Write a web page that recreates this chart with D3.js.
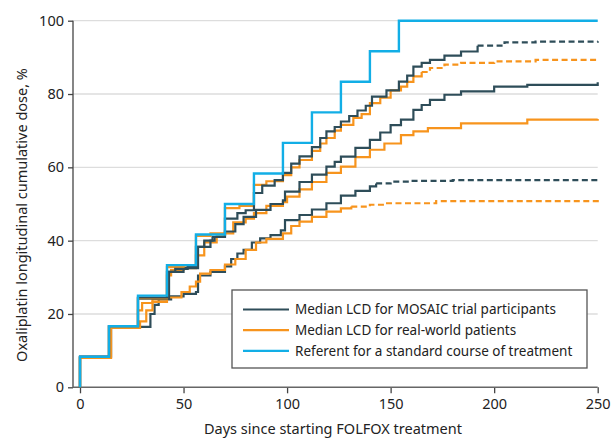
<!DOCTYPE html>
<html>
<head>
<meta charset="utf-8">
<script src="https://cdn.jsdelivr.net/npm/d3@7"></script>
<style>
  body { margin: 0; background: #fff; }
  text { font-family: "Noto Sans", sans-serif; fill: #222; }
</style>
</head>
<body>
<svg id="chart" width="611" height="438"></svg>
<script>
// [day, cumulative dose %]
var referent = d3.range(0, 12).map(function(k) { return [k * 14, (k + 1) * 100 / 12]; });
referent.push([250, 100]);

var mosaicUpper = [[0,8.33],[14,16.67],[28,24.5],[42,31.5],[46,32.3],[52,32.8],[56,38.3],[60,40],[65,41],[70,46],[76,47.5],[80,48.3],[84,53],[88,55],[94,56.5],[98,58.5],[102,61],[106,63],[112,65.5],[116,68],[119,69.8],[123,71],[126,72.5],[130,74],[134,75.5],[138,76.8],[141,79.3],[148,81],[154,83.4],[158,85],[161,87.5],[165,88.5],[169,89.3],[176,90.5],[184,91.6],[192,93.2],[205,94.1],[220,94.3],[250,94.4]];
var mosaicMedian = [[0,8.33],[14,16.67],[28,24.2],[43,31.5],[50,32.5],[57,38.3],[63,40],[64,41],[70,42.5],[75,44.5],[79,46.5],[85,48.4],[92,50],[98,51],[99,53.4],[106,56],[112,58],[119,60.2],[123,61.5],[126,62.9],[133,65.3],[140,67.5],[145,69.5],[150,71.5],[155,73],[161,75.7],[165,77],[169,78.4],[176,79.8],[184,80.7],[200,82],[216,82.5],[250,83.2]];
var mosaicLower = [[0,8.33],[15,16.5],[34,20],[36,22.5],[38,24],[44,24.8],[50,25.5],[56,26],[57,30.5],[63,31.5],[70,33],[73,35],[76,36.5],[79,37.5],[83,39.5],[87,40.6],[92,41.5],[97,42.8],[99,45.6],[106,47],[112,48.5],[119,50.2],[126,52.3],[133,53.6],[140,54.8],[143,55.6],[150,56.1],[160,56.3],[180,56.5],[250,56.7]];

var realUpper = [[0,8.0],[14,16.4],[28,24.3],[42,32.8],[50,33.2],[56,41.3],[63,42],[70,48.9],[77,49.5],[84,55.2],[90,56.2],[98,57.9],[102,60],[106,62],[112,64.5],[116,66.5],[119,68],[123,70],[126,71.6],[132,73.5],[136,74.5],[140,77.5],[145,79],[150,81],[155,82],[158,83.3],[161,84.8],[165,86],[169,87.1],[176,88],[184,88.5],[200,88.9],[220,89.3],[250,89.5]];
var realMedian = [[0,8.0],[14,16.4],[28,21],[30,23],[35,24],[42,30.5],[44,32],[50,32.5],[56,36],[60,39.5],[66,41.5],[70,42],[74,45],[80,46],[84,47.5],[90,49.5],[98,50.5],[100,52],[106,54],[112,56],[119,58.5],[126,60.2],[133,62.8],[140,64.8],[147,66.5],[155,68.8],[161,69.8],[168,70.7],[184,72],[216,73],[250,73.2]];
var realLower = [[0,8.0],[15,16.2],[29,18],[32,21],[35,23.3],[42,24.5],[49,26],[53,27.5],[56,28.8],[58,31],[63,32],[70,33.5],[75,35],[80,37.5],[85,39.5],[90,40.5],[98,42],[102,44],[106,45.2],[112,46.5],[119,47.9],[126,48.8],[131,49.3],[140,49.8],[147,50.2],[172,50.8],[250,51.1]];

// which day each bound curve turns dashed
var series = [
  { data: mosaicLower, color: "#2e4d59", dashFrom: 145 },
  { data: realLower, color: "#f7941d", dashFrom: 138 },
  { data: realMedian, color: "#f7941d", dashFrom: null },
  { data: mosaicMedian, color: "#2e4d59", dashFrom: null },
  { data: realUpper, color: "#f7941d", dashFrom: 168 },
  { data: mosaicUpper, color: "#2e4d59", dashFrom: 192 }
];

var legendItems = [
  { label: "Median LCD for MOSAIC trial participants", color: "#2e4d59" },
  { label: "Median LCD for real-world patients", color: "#f7941d" },
  { label: "Referent for a standard course of treatment", color: "#12aee6" }
];

var xTicks = [0, 50, 100, 150, 200, 250];
var yTicks = [0, 20, 40, 60, 80, 100];

var svg = d3.select("#chart");
var x = d3.scaleLinear().domain([0, 250]).range([80, 597.7]);
var y = d3.scaleLinear().domain([0, 100]).range([387.3, 20.7]);
var axisLeft = 73;

// gridlines
svg.append("g").selectAll("line")
  .data(yTicks.filter(function(d) { return d > 0; }))
  .enter().append("line")
  .attr("x1", axisLeft).attr("x2", 597.7)
  .attr("y1", function(d) { return y(d); })
  .attr("y2", function(d) { return y(d); })
  .attr("stroke", "#dddddd").attr("stroke-width", 1.3);

// axes
var yAxis = svg.append("g").attr("transform", "translate(" + axisLeft + ",0)")
  .call(d3.axisLeft(y).tickValues(yTicks).tickSize(5).tickPadding(4));
var xAxis = svg.append("g").attr("transform", "translate(0," + y(0) + ")")
  .call(d3.axisBottom(x).tickValues(xTicks).tickSize(6).tickPadding(5));
[yAxis, xAxis].forEach(function(a) {
  a.select(".domain").remove();
  a.selectAll(".tick line").attr("stroke", "#444").attr("stroke-width", 1.3);
  a.selectAll(".tick text").style("font-size", "14.5px").style("font-family", "Noto Sans").attr("fill", "#222");
});
svg.append("line").attr("x1", axisLeft).attr("x2", axisLeft)
  .attr("y1", y(100)).attr("y2", y(0)).attr("stroke", "#444").attr("stroke-width", 1.3);
svg.append("line").attr("x1", axisLeft).attr("x2", 597.7)
  .attr("y1", y(0)).attr("y2", y(0)).attr("stroke", "#666").attr("stroke-width", 1.6);

var line = d3.line()
  .x(function(d) { return x(d[0]); })
  .y(function(d) { return y(d[1]); })
  .curve(d3.curveStepAfter);

var curves = svg.append("g").attr("fill", "none");

function startAtZero(data) { return [[0, 0]].concat(data); }

series.forEach(function(s) {
  var pts = startAtZero(s.data);
  if (s.dashFrom == null) {
    curves.append("path").attr("d", line(pts))
      .attr("stroke", s.color).attr("stroke-width", 2.2);
  } else {
    // split at the last point on or before dashFrom; dashed part reuses it
    var idx = d3.bisectRight(pts.map(function(d) { return d[0]; }), s.dashFrom) - 1;
    var solid = pts.slice(0, idx + 1);
    var dashed = pts.slice(idx);
    curves.append("path").attr("d", line(solid))
      .attr("stroke", s.color).attr("stroke-width", 2.2);
    curves.append("path").attr("d", line(dashed))
      .attr("stroke", s.color).attr("stroke-width", 2.2)
      .attr("stroke-dasharray", "6,3.5");
  }
});

curves.append("path").attr("d", line(startAtZero(referent)))
  .attr("stroke", "#12aee6").attr("stroke-width", 2.4);

// legend
var legend = svg.append("g");
legend.append("rect")
  .attr("x", 232).attr("y", 290).attr("width", 355).attr("height", 78)
  .attr("fill", "#fff").attr("stroke", "#555").attr("stroke-width", 1.3);
legend.selectAll("g.item").data(legendItems).enter().append("g")
  .attr("class", "item")
  .attr("transform", function(d, i) { return "translate(243," + (309.5 + i * 20.7) + ")"; })
  .each(function(d) {
    var g = d3.select(this);
    g.append("line").attr("x1", 0).attr("x2", 46).attr("stroke", d.color).attr("stroke-width", 2.2);
    g.append("text").attr("x", 52).attr("dy", "0.35em")
      .style("font-size", "13.5px").text(d.label);
  });

// axis titles
svg.append("text")
  .attr("x", 333).attr("y", 434)
  .attr("text-anchor", "middle").style("font-size", "14.5px")
  .text("Days since starting FOLFOX treatment");
svg.append("text")
  .attr("transform", "translate(27,215) rotate(-90)")
  .attr("text-anchor", "middle").style("font-size", "14.5px")
  .text("Oxaliplatin longitudinal cumulative dose, %");
</script>
</body>
</html>
